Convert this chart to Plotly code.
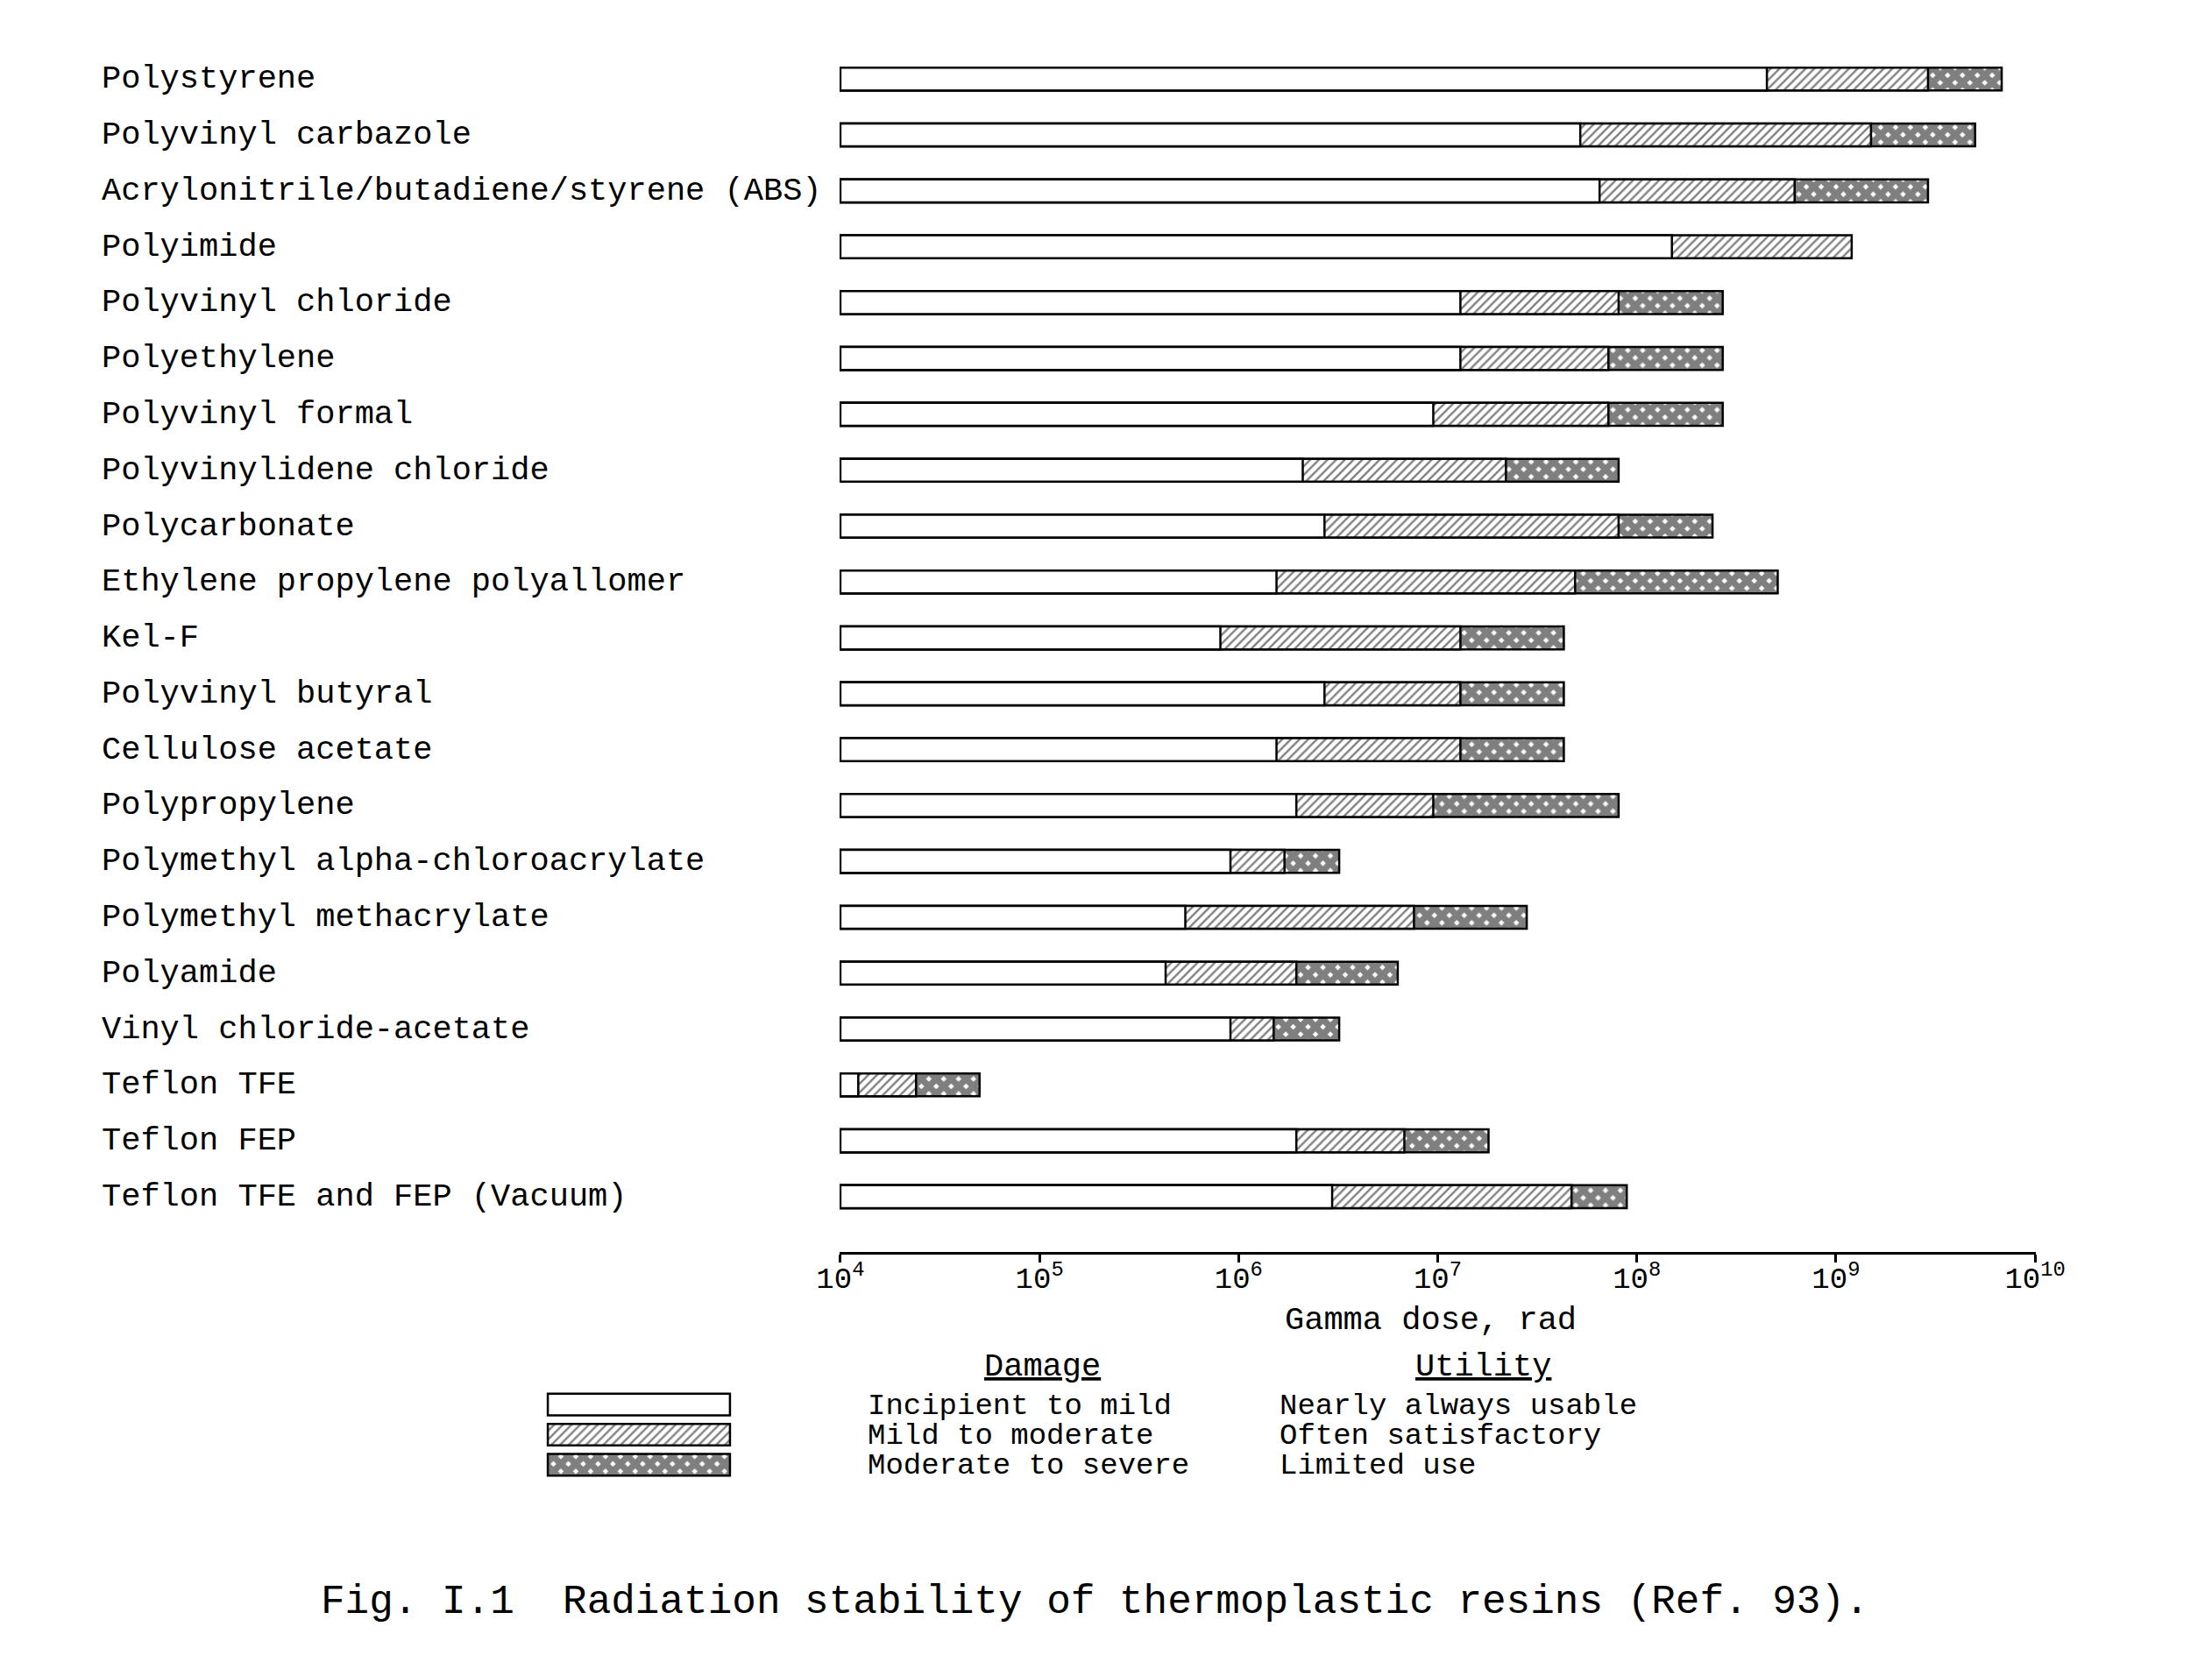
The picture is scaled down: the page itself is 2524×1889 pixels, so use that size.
import plotly.graph_objects as go

# resin names, top to bottom
resins = [
    "Polystyrene",
    "Polyvinyl carbazole",
    "Acrylonitrile/butadiene/styrene (ABS)",
    "Polyimide",
    "Polyvinyl chloride",
    "Polyethylene",
    "Polyvinyl formal",
    "Polyvinylidene chloride",
    "Polycarbonate",
    "Ethylene propylene polyallomer",
    "Kel-F",
    "Polyvinyl butyral",
    "Cellulose acetate",
    "Polypropylene",
    "Polymethyl alpha-chloroacrylate",
    "Polymethyl methacrylate",
    "Polyamide",
    "Vinyl chloride-acetate",
    "Teflon TFE",
    "Teflon FEP",
    "Teflon TFE and FEP (Vacuum)",
]

# gamma dose (rad) where each damage band ends
mild_end = [4.5e8, 5.2e7, 6.5e7, 1.5e8, 1.3e7, 1.3e7, 9.5e6, 2.1e6, 2.7e6, 1.55e6, 8.1e5,
            2.7e6, 1.55e6, 1.95e6, 9.1e5, 5.4e5, 4.3e5, 9.1e5, 1.23e4, 1.95e6, 2.95e6]
moderate_end = [2.9e9, 1.5e9, 6.2e8, 1.2e9, 8.1e7, 7.2e7, 7.2e7, 2.2e7, 8.1e7, 4.9e7, 1.3e7,
                1.3e7, 1.3e7, 9.5e6, 1.7e6, 7.6e6, 1.95e6, 1.5e6, 2.4e4, 6.8e6, 4.7e7]
severe_end = [6.8e9, 5.0e9, 2.9e9, None, 2.7e8, 2.7e8, 2.7e8, 8.1e7, 2.4e8, 5.1e8, 4.3e7,
              4.3e7, 4.3e7, 8.1e7, 3.2e6, 2.8e7, 6.3e6, 3.2e6, 5.0e4, 1.8e7, 8.9e7]

start_dose = 1e4
tick_vals = [1e4, 1e5, 1e6, 1e7, 1e8, 1e9, 1e10]
tick_text = ["10<sup>4</sup>", "10<sup>5</sup>", "10<sup>6</sup>", "10<sup>7</sup>",
             "10<sup>8</sup>", "10<sup>9</sup>", "10<sup>10</sup>"]

damage = ["Incipient to mild", "Mild to moderate", "Moderate to severe"]
utility = ["Nearly always usable", "Often satisfactory", "Limited use"]

W, H = 2524, 1889
OFF = 8  # page body margin
ML, MR, MT, MB = 100, 209, 40, 48
PW, PH = W - ML - MR, H - MT - MB


def fx(px):
    return (px - OFF - ML) / PW


def fy(py):
    return (H - MB - (py - OFF)) / PH


FONT = "Liberation Mono"
plain = dict(color="white", pattern=dict(shape=""))
hatch = dict(color="white", pattern=dict(shape="/", fgcolor="black", bgcolor="white", size=7, solidity=0.33))
cross = dict(color="white", pattern=dict(shape="x", fgcolor="black", bgcolor="white", size=12, solidity=0.85))
outline = dict(color="black", width=2.5)

rows = list(range(len(resins)))


def lengths(ends):
    return [None if e is None else e - start_dose for e in ends]


fig = go.Figure()
for ends, style in [(severe_end, cross), (moderate_end, hatch), (mild_end, plain)]:
    fig.add_trace(go.Bar(
        y=rows, x=lengths(ends), base=start_dose, orientation="h", width=0.41,
        marker=dict(**style, line=outline), showlegend=False, hoverinfo="skip",
    ))

# legend swatches drawn as a small bar subplot
for i, style in enumerate([plain, hatch, cross]):
    fig.add_trace(go.Bar(
        y=[i], x=[1], base=0, orientation="h", width=0.72, xaxis="x2", yaxis="y2",
        marker=dict(**style, line=outline), showlegend=False, hoverinfo="skip",
    ))

fig.update_layout(
    width=W, height=H, barmode="overlay",
    margin=dict(l=ML, r=MR, t=MT, b=MB),
    paper_bgcolor="white", plot_bgcolor="white",
    font=dict(family=FONT, color="black", size=37),
    xaxis=dict(
        type="log", range=[3.996, 10.004], domain=[fx(958), 1.0], anchor="y",
        tickvals=tick_vals, ticktext=tick_text, ticks="outside", ticklen=9, tickwidth=3,
        tickcolor="black", showline=True, linewidth=3, linecolor="black",
        showgrid=False, zeroline=False, tickfont=dict(family=FONT, size=34),
        ticklabelstandoff=-12,
    ),
    yaxis=dict(
        range=[20.99, -0.6], domain=[fy(1429), fy(52)], anchor="x",
        showticklabels=False, showgrid=False, zeroline=False, showline=False,
    ),
    xaxis2=dict(range=[-0.01, 1.01], domain=[fx(623), fx(835)], anchor="y2",
                visible=False),
    yaxis2=dict(range=[2.5, -0.5], domain=[fy(1689), fy(1586)], anchor="x2",
                visible=False),
)

annotations = []
for i, name in enumerate(resins):
    annotations.append(dict(x=fx(114), y=i, xref="paper", yref="y", text=name,
                            xanchor="left", yanchor="middle", showarrow=False))


def note(x, y, text, xanchor="center", **kw):
    annotations.append(dict(x=fx(x), y=fy(y), xref="paper", yref="paper", text=text,
                            xanchor=xanchor, yanchor="middle", showarrow=False, **kw))


note(1632, 1507, "Gamma dose, rad")
note(1189, 1560, "<u>Damage</u>")
note(1692, 1560, "<u>Utility</u>")
for i, (d, u) in enumerate(zip(damage, utility)):
    note(988, 1605 + i * 34, d, xanchor="left", font=dict(size=34))
    note(1458, 1605 + i * 34, u, xanchor="left", font=dict(size=34))

note(1249, 1829, "Fig. I.1  Radiation stability of thermoplastic resins (Ref. 93).",
     font=dict(size=46))
fig.update_layout(annotations=annotations)

fig.write_html("out.html")
